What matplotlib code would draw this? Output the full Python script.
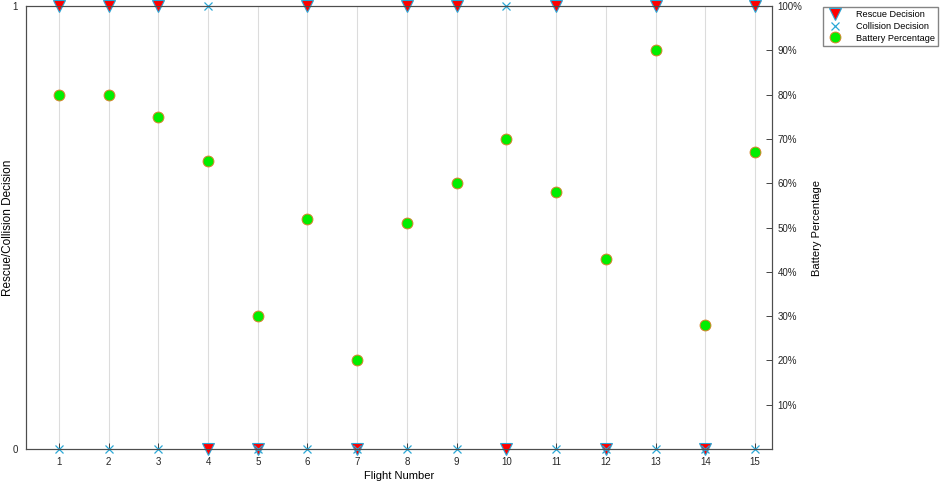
import matplotlib
matplotlib.use("Agg")
import matplotlib.pyplot as plt
import numpy as np

plt.rcParams['font.family'] = ['Liberation Sans', 'DejaVu Sans']

flights = list(range(1, 16))
rescue = [1, 1, 1, 0, 0, 1, 0, 1, 1, 0, 1, 0, 1, 0, 1]
collision = [0, 0, 0, 1, 0, 0, 0, 0, 0, 1, 0, 0, 0, 0, 0]
battery = [80, 80, 75, 65, 30, 52, 20, 51, 60, 70, 58, 43, 90, 28, 67]
battery_ticks = [10, 20, 30, 40, 50, 60, 70, 80, 90, 100]

fig = plt.figure(figsize=(9.41, 4.82), dpi=100)
ax = fig.add_axes([0.0276, 0.0685, 0.7928, 0.919])
ax2 = ax.twinx()

h1, = ax.plot(flights, rescue, linestyle='none', marker='v', markersize=9,
              markerfacecolor='red', markeredgecolor='#2aa7d6', markeredgewidth=0.8,
              label='Rescue Decision', clip_on=False, zorder=5)
h2, = ax.plot(flights, collision, linestyle='none', marker='x', markersize=5.5,
              color='#2aa7d6', markeredgewidth=0.9, label='Collision Decision',
              clip_on=False, zorder=6)
h3, = ax2.plot(flights, battery, linestyle='none', marker='o', markersize=7.8,
               markerfacecolor='#00ee00', markeredgecolor='#d9822b', markeredgewidth=0.7,
               label='Battery Percentage', clip_on=False, zorder=5)

ax.set_xlim(0.34, 15.34)
ax.set_ylim(0, 1)
ax2.set_ylim(0, 100)
ax.set_xticks(flights)
ax.set_yticks([0, 1])
ax.set_yticklabels(['0', '1'])
ax2.set_yticks(battery_ticks)
ax2.set_yticklabels([f'{t}%' for t in battery_ticks])
ax.grid(axis='x', color='#dcdcdc', linewidth=0.8)
ax.set_axisbelow(True)

for a in (ax, ax2):
    a.tick_params(direction='in', labelsize=7, colors='#262626', length=4, width=0.6)
    for s in a.spines.values():
        s.set_color('#4d4d4d')
        s.set_linewidth(0.8)
ax.tick_params(axis='x', pad=6)
ax.tick_params(axis='y', pad=6)
ax2.tick_params(axis='y', pad=4)

ax.set_xlabel('Flight Number', fontsize=8, labelpad=3)
ax.set_ylabel('Rescue/Collision Decision', fontsize=8.5)
ax.yaxis.set_label_coords(-0.0165, 0.5)
ax2.set_ylabel('Battery Percentage', fontsize=8, labelpad=7)

ax2.set_zorder(ax.get_zorder() + 1)
ax2.patch.set_visible(False)

fig.legend(handles=[h1, h2, h3], loc='upper left', bbox_to_anchor=(0.8746, 0.9855),
           fontsize=6.6, frameon=True, fancybox=False, edgecolor='#666666',
           borderpad=0.35, labelspacing=0.3, handletextpad=1.2, handlelength=2.0,
           borderaxespad=0)

fig.savefig('out.png', dpi=100)
